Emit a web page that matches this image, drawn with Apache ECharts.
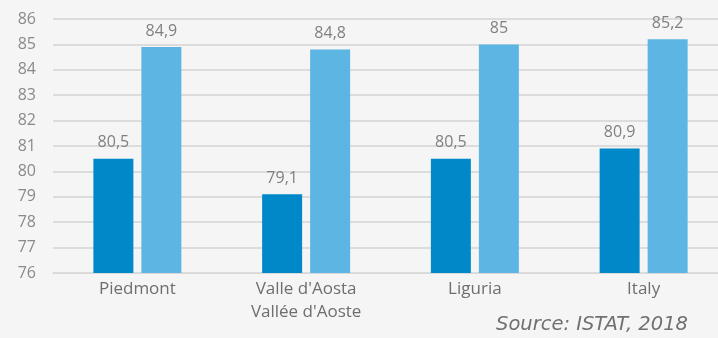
<!DOCTYPE html>
<html>
<head>
<meta charset="utf-8">
<script src="https://cdn.jsdelivr.net/npm/echarts@6/dist/echarts.min.js"></script>
<style>
  html, body { margin: 0; padding: 0; background: #f5f5f5; overflow: hidden; }
  #chart { width: 740px; height: 338px; }
</style>
</head>
<body>
<div id="chart"></div>
<script>
// Life expectancy at birth by region (two series per region)
const categories = ['Piedmont', "Valle d'Aosta\nVallée d'Aoste", 'Liguria', 'Italy'];
const seriesA = [80.5, 79.1, 80.5, 80.9];
const seriesB = [84.9, 84.8, 85.0, 85.2];
const yTicks = { min: 76, max: 86, interval: 1 };
const sourceNote = 'Source: ISTAT, 2018';

const fmt = p => String(p.value).replace('.', ',');
const labelStyle = {
  show: true, position: 'top', distance: 8,
  color: '#808080', fontSize: 16, fontFamily: 'Open Sans', formatter: fmt
};

const chart = echarts.init(document.getElementById('chart'), null, { renderer: 'canvas' });
chart.setOption({
  backgroundColor: '#f5f5f5',
  animation: false,
  textStyle: { fontFamily: 'Open Sans' },
  grid: { left: 53, top: 19, width: 675, height: 254, containLabel: false },
  xAxis: {
    type: 'category',
    data: categories,
    axisLine: { show: true, lineStyle: { color: '#d9d9d9', width: 1 } },
    axisTick: { show: false },
    axisLabel: { color: '#6e6e6e', fontSize: 17, lineHeight: 23, margin: 5, fontFamily: 'Open Sans' }
  },
  yAxis: {
    type: 'value',
    min: yTicks.min, max: yTicks.max, interval: yTicks.interval,
    axisLine: { show: false },
    axisTick: { show: false },
    splitLine: { lineStyle: { color: '#dcdcdc', width: 2 } },
    axisLabel: { color: '#8a8a8a', fontSize: 16, margin: 17, fontFamily: 'Open Sans' }
  },
  series: [
    {
      type: 'bar', data: seriesA, barWidth: 40, barGap: '20%',
      itemStyle: { color: '#0088c9' }, label: labelStyle
    },
    {
      type: 'bar', data: seriesB, barWidth: 40, barGap: '20%',
      itemStyle: { color: '#5db5e3' }, label: labelStyle
    }
  ],
  graphic: [{
    type: 'text', left: 496, top: 315,
    style: { text: sourceNote, fill: '#707070', font: 'oblique 19.5px "DejaVu Sans"' }
  }]
});
</script>
</body>
</html>
